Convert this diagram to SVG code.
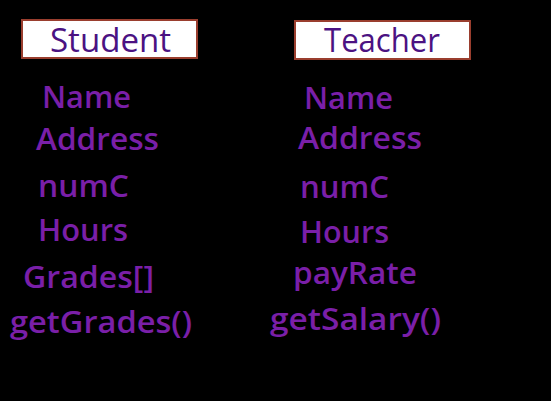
<svg xmlns="http://www.w3.org/2000/svg" width="551" height="401" viewBox="0 0 551 401">
<style>
.bg{fill:#000}
.hdr rect{fill:#fff;stroke:#9a3e2e;stroke-width:2}
.hdr text{font-family:"Open Sans",Lato,"DejaVu Sans",sans-serif;font-size:32px;font-weight:500;fill:#4b1282}
.attr{font-family:"Open Sans",Lato,"DejaVu Sans",sans-serif;font-size:30px;font-weight:600;fill:#7a1fa8}
</style>
<rect class="bg" x="0" y="0" width="551" height="401"/>
<g id="student">
  <g class="hdr" id="student-header">
    <rect x="22" y="20" width="175" height="38"/>
    <text x="50" y="52" textLength="121" lengthAdjust="spacingAndGlyphs">Student</text>
  </g>
  <text class="attr" x="42" y="108" textLength="89" lengthAdjust="spacingAndGlyphs">Name</text>
  <text class="attr" x="36" y="150" textLength="123" lengthAdjust="spacingAndGlyphs">Address</text>
  <text class="attr" x="38" y="197" textLength="91" lengthAdjust="spacingAndGlyphs">numC</text>
  <text class="attr" x="38" y="241" textLength="90" lengthAdjust="spacingAndGlyphs">Hours</text>
  <text class="attr" x="23" y="288" textLength="131" lengthAdjust="spacingAndGlyphs">Grades[]</text>
  <text class="attr" x="10" y="333" textLength="182" lengthAdjust="spacingAndGlyphs">getGrades()</text>
</g>
<g id="teacher">
  <g class="hdr" id="teacher-header">
    <rect x="295" y="21" width="175" height="38"/>
    <text x="324" y="52" textLength="116" lengthAdjust="spacingAndGlyphs">Teacher</text>
  </g>
  <text class="attr" x="304" y="109" textLength="89" lengthAdjust="spacingAndGlyphs">Name</text>
  <text class="attr" x="298" y="149" textLength="124" lengthAdjust="spacingAndGlyphs">Address</text>
  <text class="attr" x="300" y="198" textLength="89" lengthAdjust="spacingAndGlyphs">numC</text>
  <text class="attr" x="300" y="243" textLength="89" lengthAdjust="spacingAndGlyphs">Hours</text>
  <text class="attr" x="293" y="284" textLength="124" lengthAdjust="spacingAndGlyphs">payRate</text>
  <text class="attr" x="270" y="330" textLength="171" lengthAdjust="spacingAndGlyphs">getSalary()</text>
</g>
<g id="connectors"></g>
</svg>
